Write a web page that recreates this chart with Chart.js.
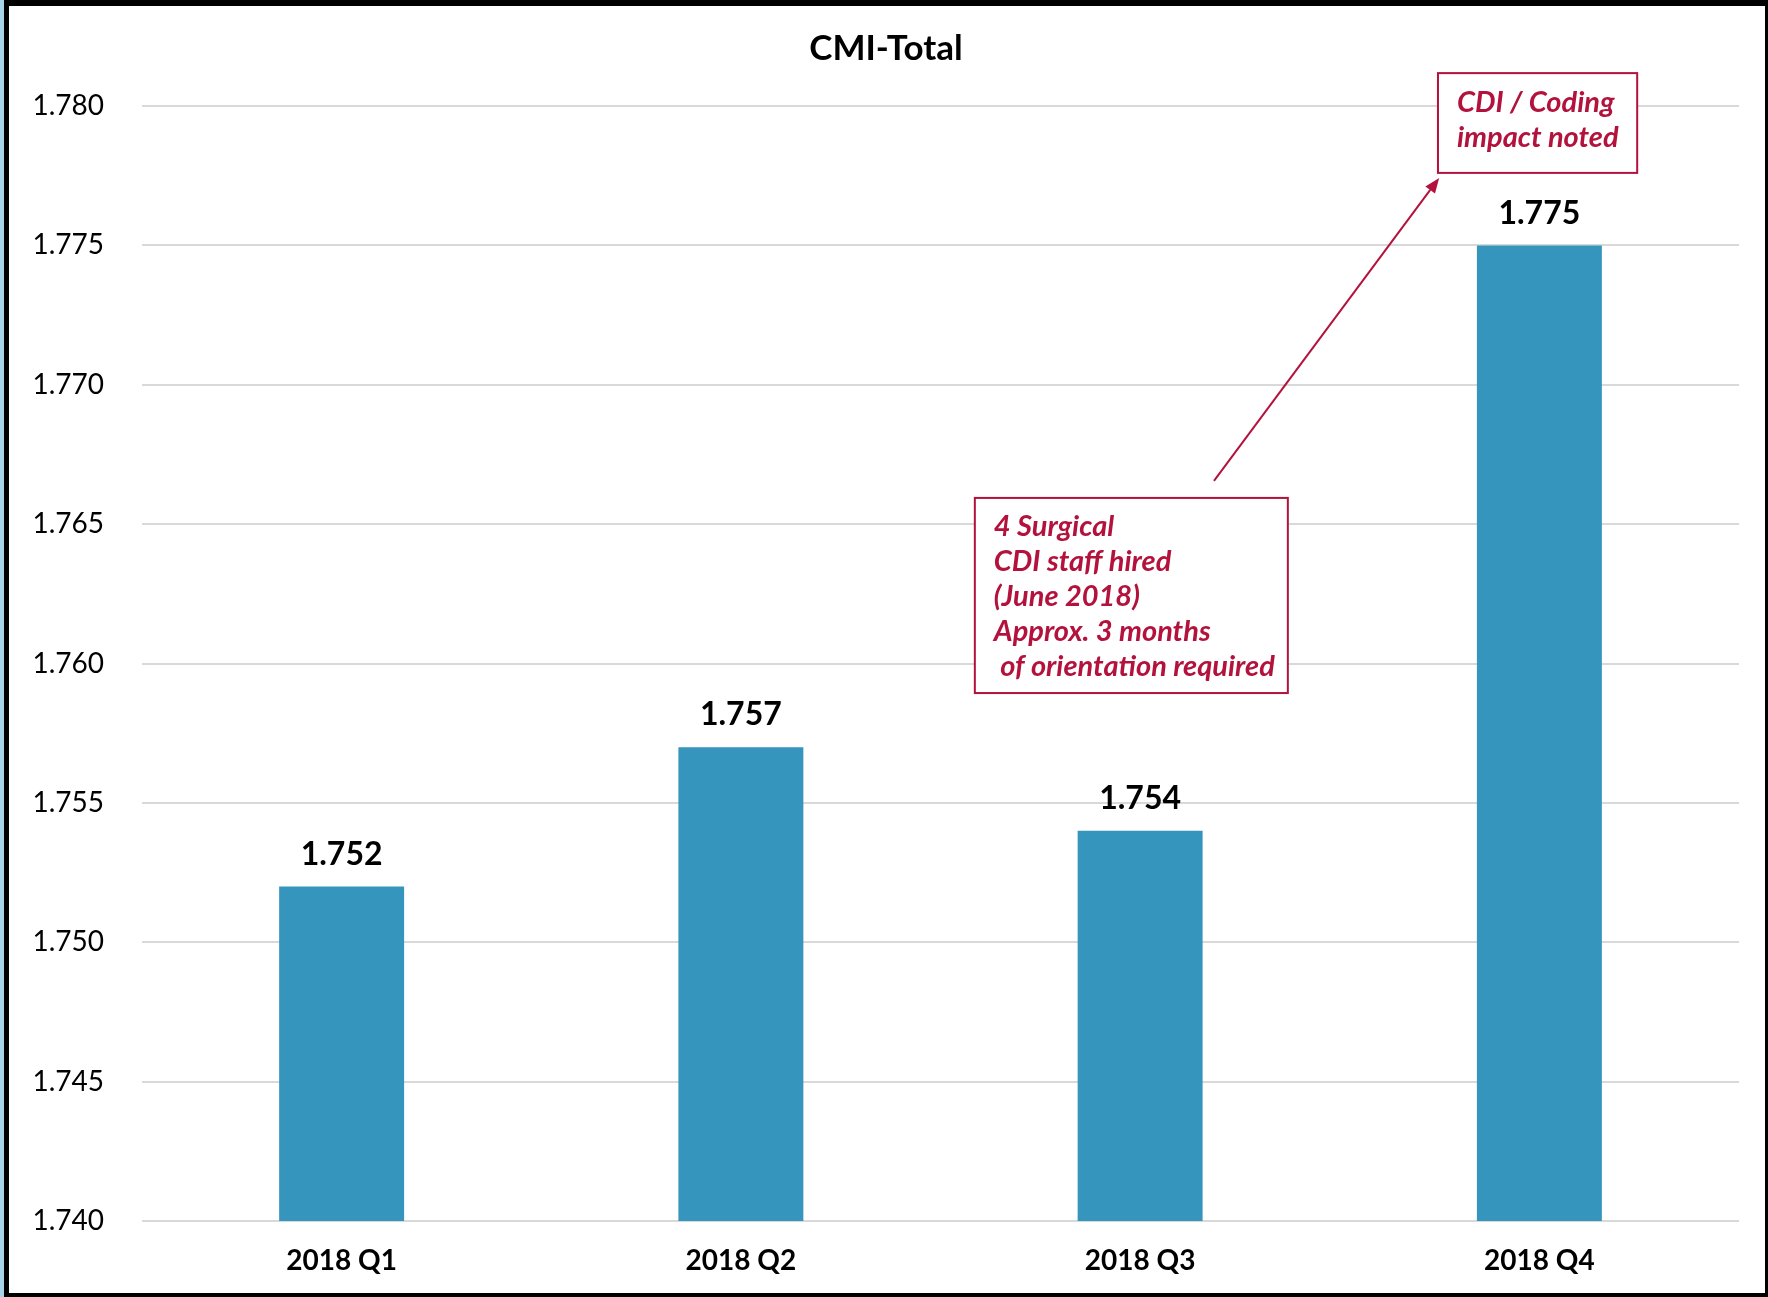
<!DOCTYPE html>
<html>
<head>
<meta charset="utf-8">
<title>CMI-Total</title>
<script src="https://cdn.jsdelivr.net/npm/chart.js@4.4.0/dist/chart.umd.min.js"></script>
<style>
  body { margin: 0; background: #fff; width: 1768px; height: 1297px; overflow: hidden; position: relative; }
  #strip { position: absolute; left: 0; top: 0; width: 4px; height: 1297px; background: #a8d4ea; }
  #frame { position: absolute; left: 4px; top: 0; width: 1756px; height: 1287px;
           border-style: solid; border-color: #000; border-width: 6px 3px 4px 5px; background: #fff; }
  canvas { display: block; }
</style>
</head>
<body>
<div id="strip"></div>
<div id="frame"><canvas id="cmi_chart" width="1756" height="1287"></canvas></div>
<script>
// chart data
const categories = ['2018 Q1', '2018 Q2', '2018 Q3', '2018 Q4'];
const cmiValues = [1.752, 1.757, 1.754, 1.775];
const yTicks = [1.740, 1.745, 1.750, 1.755, 1.760, 1.765, 1.770, 1.775, 1.780];

// annotation text
const impactNote = ['CDI / Coding', 'impact noted'];
const staffNote = ['4 Surgical', 'CDI staff hired', '(June 2018)', 'Approx. 3 months', ' of orientation required'];

const noteColor = '#b3123c';

// boxes placed in axis units (category index, CMI value)
const notes = [
  { lines: impactNote, x0: 2.746, x1: 3.245, y0: 1.78118, y1: 1.7776, firstLine: 30, lineGap: 35 },
  { lines: staffNote, x0: 1.586, x1: 2.370, y0: 1.76594, y1: 1.75894, firstLine: 29, lineGap: 35 }
];
const arrow = { from: [2.185, 1.76655], to: [2.749, 1.77742] };

const labelsPlugin = {
  id: 'labels_and_notes',
  afterDatasetsDraw(chart) {
    const ctx = chart.ctx;
    const xs = chart.scales.x, ys = chart.scales.y;
    ctx.save();

    // value labels above bars
    ctx.fillStyle = '#000';
    ctx.font = 'bold 32px Lato';
    ctx.textAlign = 'center';
    ctx.textBaseline = 'middle';
    chart.getDatasetMeta(0).data.forEach(function (bar, i) {
      ctx.fillText(cmiValues[i].toFixed(3), bar.x, bar.y - 32);
    });

    // note boxes
    ctx.strokeStyle = noteColor;
    ctx.fillStyle = noteColor;
    ctx.lineWidth = 2;
    ctx.font = 'italic bold 29px Lato';
    ctx.textAlign = 'left';
    notes.forEach(function (n) {
      const left = xs.getPixelForValue(n.x0), right = xs.getPixelForValue(n.x1);
      const top = ys.getPixelForValue(n.y0), bottom = ys.getPixelForValue(n.y1);
      ctx.fillStyle = '#fff';
      ctx.fillRect(left, top, right - left, bottom - top);
      ctx.strokeRect(left, top, right - left, bottom - top);
      ctx.fillStyle = noteColor;
      for (let k = 0; k < n.lines.length; k++) {
        ctx.fillText(n.lines[k], left + 19, top + n.firstLine + k * n.lineGap);
      }
    });

    // arrow
    const x1 = xs.getPixelForValue(arrow.from[0]), y1 = ys.getPixelForValue(arrow.from[1]);
    const x2 = xs.getPixelForValue(arrow.to[0]), y2 = ys.getPixelForValue(arrow.to[1]);
    const ang = Math.atan2(y2 - y1, x2 - x1);
    const headLen = 15, headW = 6;
    ctx.beginPath();
    ctx.moveTo(x1, y1);
    ctx.lineTo(x2 - Math.cos(ang) * headLen, y2 - Math.sin(ang) * headLen);
    ctx.stroke();
    ctx.beginPath();
    ctx.moveTo(x2, y2);
    ctx.lineTo(x2 - Math.cos(ang) * headLen - Math.sin(ang) * headW, y2 - Math.sin(ang) * headLen + Math.cos(ang) * headW);
    ctx.lineTo(x2 - Math.cos(ang) * headLen + Math.sin(ang) * headW, y2 - Math.sin(ang) * headLen - Math.cos(ang) * headW);
    ctx.closePath();
    ctx.fill();

    ctx.restore();
  }
};

var cmi_chart = document.getElementById('cmi_chart');
var myChart = new Chart(cmi_chart, {
  type: 'bar',
  data: {
    labels: categories,
    datasets: [{
      data: cmiValues,
      backgroundColor: '#3595bc',
      barPercentage: 0.313,
      categoryPercentage: 1.0
    }]
  },
  options: {
    responsive: false,
    animation: false,
    layout: { padding: { left: 24, right: 26, top: 0, bottom: 0 } },
    plugins: {
      legend: { display: false },
      tooltip: { enabled: false },
      title: {
        display: true,
        text: 'CMI-Total',
        color: '#000',
        font: { family: 'Lato', size: 35, weight: 'bold', lineHeight: 1.2 },
        padding: { top: 22, bottom: 36 }
      }
    },
    scales: {
      x: {
        grid: { display: false },
        border: { display: false },
        ticks: { color: '#000', font: { family: 'Lato', size: 28, weight: 'bold' }, padding: 15 },
        afterFit(scale) { scale.height = 72; }
      },
      y: {
        min: 1.740,
        max: 1.780,
        afterBuildTicks(scale) { scale.ticks = yTicks.map(function (v) { return { value: v }; }); },
        grid: { color: '#d9d9d9', lineWidth: 2, drawTicks: false },
        border: { display: false },
        ticks: {
          color: '#000',
          font: { family: 'Lato', size: 28 },
          padding: 38,
          callback: function (v) { return Number(v).toFixed(3); }
        },
        afterFit(scale) { scale.width = 109; }
      }
    }
  },
  plugins: [labelsPlugin]
});
</script>
</body>
</html>
